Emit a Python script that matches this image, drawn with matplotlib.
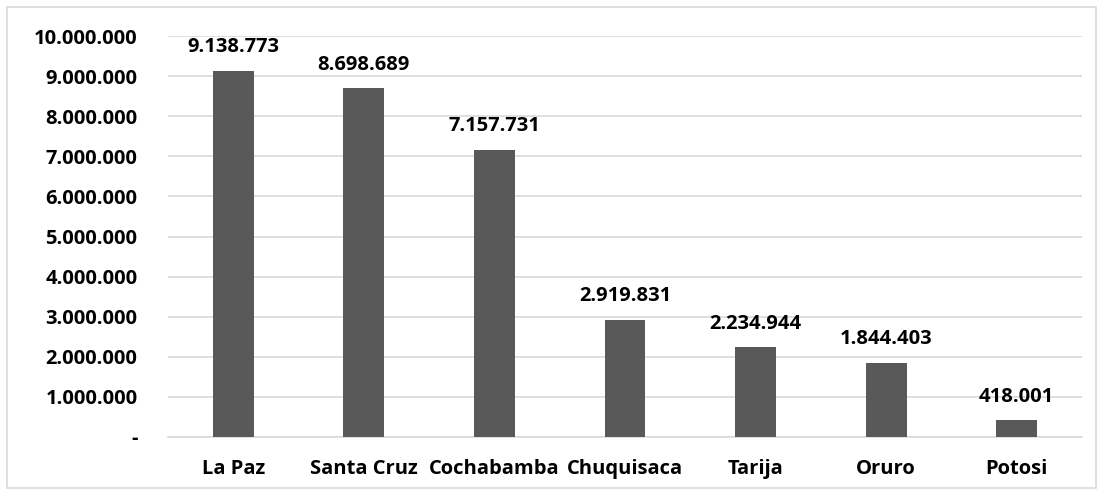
import matplotlib.pyplot as plt
from matplotlib.patches import Rectangle

departamentos = ['La Paz', 'Santa Cruz', 'Cochabamba', 'Chuquisaca', 'Tarija', 'Oruro', 'Potosi']
valores = [9138773, 8698689, 7157731, 2919831, 2234944, 1844403, 418001]
y_ticks = [0, 1000000, 2000000, 3000000, 4000000, 5000000, 6000000, 7000000, 8000000, 9000000, 10000000]


def miles(v):
    if v == 0:
        return '-'
    return f'{v:,.0f}'.replace(',', '.')


plt.rcParams['font.family'] = ['Open Sans', 'DejaVu Sans']

fig = plt.figure(figsize=(11.03, 4.95), dpi=100)
fig.patches.append(Rectangle((7 / 1103, 7 / 495), 1089 / 1103, 481 / 495,
                             transform=fig.transFigure, fill=False,
                             edgecolor='#d9d9d9', linewidth=1.2))

ax = fig.add_axes([168 / 1103, 1 - 437 / 495, 914 / 1103, 401 / 495])
x = range(len(departamentos))
bars = ax.bar(x, valores, width=0.314, color='#595959', zorder=3)

for b, v in zip(bars, valores):
    ax.annotate(miles(v), (b.get_x() + b.get_width() / 2, v),
                xytext=(0, 17), textcoords='offset points',
                ha='center', va='center', fontsize=14.5, fontweight='bold')

ax.set_xlim(-0.5, len(departamentos) - 0.5)
ax.set_ylim(0, 10000000)
ax.set_yticks(y_ticks)
ax.set_yticklabels([miles(t) for t in y_ticks], fontsize=14.5, fontweight='bold')
ax.set_xticks(list(x))
ax.set_xticklabels(departamentos, fontsize=14.5, fontweight='bold')
ax.tick_params(axis='both', length=0)
ax.tick_params(axis='y', pad=22)
ax.tick_params(axis='x', pad=16)
ax.grid(axis='y', color='#d9d9d9', linewidth=1.2, zorder=0)
for s in ['top', 'right', 'left']:
    ax.spines[s].set_visible(False)
ax.spines['bottom'].set_color('#d9d9d9')
ax.spines['bottom'].set_linewidth(1.2)

plt.savefig('out.png', dpi=100)
